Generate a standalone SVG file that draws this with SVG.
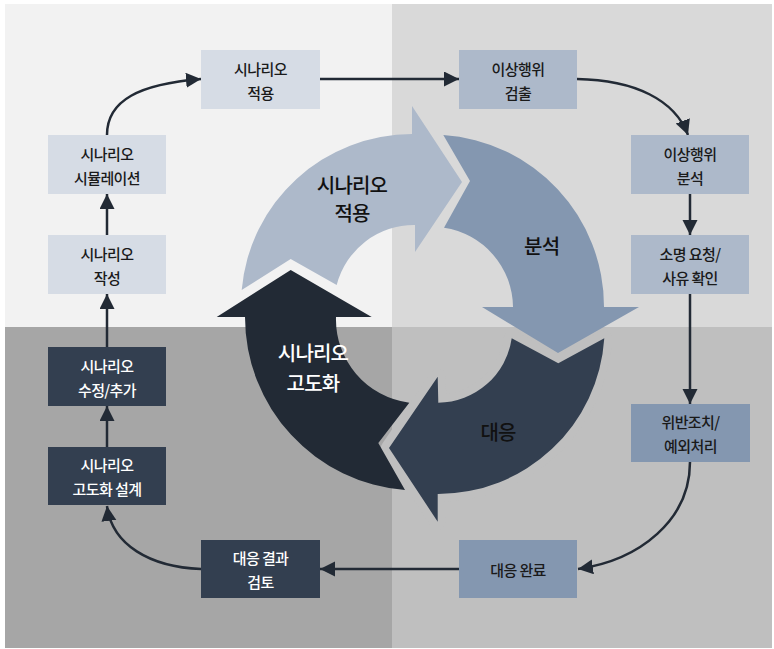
<svg xmlns="http://www.w3.org/2000/svg" width="774" height="649" viewBox="0 0 774 649">
<defs>
<style>
.t{font-family:"Noto Sans CJK KR","Noto Sans",sans-serif;font-size:15px;font-weight:500;text-anchor:middle;dominant-baseline:central;letter-spacing:-0.6px}
.dk{fill:#1a1a1a}
.wt{fill:#ffffff}
.big{font-family:"Noto Sans CJK KR","Noto Sans",sans-serif;font-size:20px;font-weight:500;text-anchor:middle;dominant-baseline:central;letter-spacing:-0.8px}
.c{fill:none;stroke:#222a35;stroke-width:2.5}
</style>
<marker id="ah" markerUnits="userSpaceOnUse" markerWidth="16" markerHeight="16" refX="15" refY="7.5" orient="auto">
<path d="M0,0 L15,7.5 L0,15 Z" fill="#222a35"/>
</marker>
</defs>
<rect x="0" y="0" width="774" height="649" fill="#ffffff"/>
<rect x="5" y="4" width="387" height="323" fill="#f2f2f2"/>
<rect x="392" y="4" width="380" height="323" fill="#d9d9d9"/>
<rect x="5" y="327" width="387" height="321" fill="#a6a6a6"/>
<rect x="392" y="327" width="380" height="321" fill="#bfbfbf"/>

<g id="cycle">
<g id="arrow-response">
<path d="M604.3,338.3 A166.6,166.6 0 0 1 437.7,494 L437.7,521.7 L389,448 L437.7,376.7 L438.3,402.7 A75,75 0 0 0 511.7,338.3 L558.3,363.3 Z" fill="#333f50" stroke="#bfbfbf" stroke-width="16" stroke-linejoin="round" paint-order="stroke"/>
<text class="big" fill="#111111" x="498" y="431">대응</text>
</g>
<g id="arrow-enhance">
<path d="M405,490 A173.5,173.5 0 0 1 245,317 L216.7,317 L290.7,270 L371.7,317 L336,317 A84,84 0 0 0 409.3,402.7 L378.3,443 Z" fill="#222a35"/>
<text class="big" fill="#ffffff" x="313" y="352">시나리오</text>
<text class="big" fill="#ffffff" x="313" y="382">고도화</text>
</g>
<g id="arrow-analysis">
<path d="M443.3,135 A172,172 0 0 1 604,307 L639,307 L558,353 L482,307 L513,307 A81,81 0 0 0 444,227.7 L470,181 Z" fill="#8497b0"/>
<text class="big" fill="#111111" x="541.7" y="245">분석</text>
</g>
<g id="arrow-apply">
<path d="M241.7,290 A171,171 0 0 1 412,134 L412,106 L462,182 L415,252 L415,225 A80,80 0 0 0 336.7,285 L290.7,259 Z" fill="#adb9ca"/>
<text class="big" fill="#111111" x="352" y="184">시나리오</text>
<text class="big" fill="#111111" x="352" y="212">적용</text>
</g>
</g>

<g id="connectors">
<path class="c" d="M107,135 C107,100 140,84 201,79" marker-end="url(#ah)"/>
<path class="c" d="M320,79 L459,79" marker-end="url(#ah)"/>
<path class="c" d="M577,79 C635,80 675,100 688,135" marker-end="url(#ah)"/>
<path class="c" d="M690,194 L690,235" marker-end="url(#ah)"/>
<path class="c" d="M690,294 L690,404" marker-end="url(#ah)"/>
<path class="c" d="M690,462 C690,520 640,560 578,569" marker-end="url(#ah)"/>
<path class="c" d="M459,569 L320,569" marker-end="url(#ah)"/>
<path class="c" d="M201,569 C150,567 112,545 107,506" marker-end="url(#ah)"/>
<path class="c" d="M107,447 L107,406" marker-end="url(#ah)"/>
<path class="c" d="M107,347 L107,294" marker-end="url(#ah)"/>
<path class="c" d="M107,235 L107,194" marker-end="url(#ah)"/>
</g>

<g id="n-apply">
<rect x="201" y="50" width="119" height="59" fill="#d6dce5"/>
<text class="t dk" x="260.5" y="68">시나리오</text>
<text class="t dk" x="260.5" y="92">적용</text>
</g>
<g id="n-sim">
<rect x="48" y="135" width="118" height="59" fill="#d6dce5"/>
<text class="t dk" x="107" y="153">시나리오</text>
<text class="t dk" x="107" y="177">시뮬레이션</text>
</g>
<g id="n-write">
<rect x="48" y="235" width="118" height="59" fill="#d6dce5"/>
<text class="t dk" x="107" y="253">시나리오</text>
<text class="t dk" x="107" y="277">작성</text>
</g>
<g id="n-modify">
<rect x="48" y="347" width="118" height="59" fill="#333f50"/>
<text class="t wt" x="107" y="365">시나리오</text>
<text class="t wt" x="107" y="389">수정/추가</text>
</g>
<g id="n-design">
<rect x="48" y="447" width="118" height="58" fill="#333f50"/>
<text class="t wt" x="107" y="464.5">시나리오</text>
<text class="t wt" x="107" y="488.5">고도화 설계</text>
</g>
<g id="n-review">
<rect x="201" y="540" width="119" height="58" fill="#333f50"/>
<text class="t wt" x="260.5" y="557">대응 결과</text>
<text class="t wt" x="260.5" y="581">검토</text>
</g>
<g id="n-detect">
<rect x="459" y="50" width="118" height="59" fill="#adb9ca"/>
<text class="t dk" x="518" y="68">이상행위</text>
<text class="t dk" x="518" y="92">검출</text>
</g>
<g id="n-analyze">
<rect x="631" y="135" width="118" height="59" fill="#adb9ca"/>
<text class="t dk" x="690" y="153">이상행위</text>
<text class="t dk" x="690" y="177">분석</text>
</g>
<g id="n-explain">
<rect x="631" y="235" width="118" height="59" fill="#adb9ca"/>
<text class="t dk" x="690" y="253">소명 요청/</text>
<text class="t dk" x="690" y="277">사유 확인</text>
</g>
<g id="n-action">
<rect x="631" y="404" width="119" height="58" fill="#8497b0"/>
<text class="t dk" x="690.5" y="421">위반조치/</text>
<text class="t dk" x="690.5" y="445">예외처리</text>
</g>
<g id="n-done">
<rect x="459" y="540" width="118" height="58" fill="#8497b0"/>
<text class="t dk" x="518" y="569">대응 완료</text>
</g>
</svg>
